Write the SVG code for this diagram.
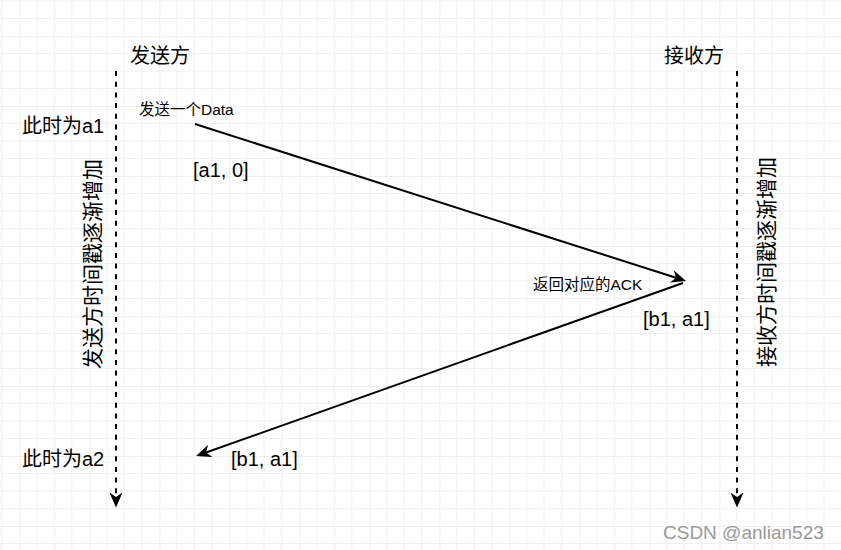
<svg xmlns="http://www.w3.org/2000/svg" width="841" height="550" viewBox="0 0 841 550">
  <defs>
    <pattern id="grid" patternUnits="userSpaceOnUse" x="19.3" y="36" width="70" height="70">
      <path d="M17.5,0V70M35,0V70M52.5,0V70M0,17.5H70M0,35H70M0,52.5H70" stroke="#f0f0f0" stroke-width="1" fill="none"/>
      <path d="M0,0V70M0,0H70" stroke="#e0e0e0" stroke-width="1" fill="none"/>
    </pattern>
    <marker id="arrow" markerUnits="userSpaceOnUse" viewBox="0 0 15 13" markerWidth="15" markerHeight="13" refX="4.5" refY="6.5" orient="auto">
      <path d="M0,0 L15,6.5 L0,13 L4.5,6.5 Z" fill="#000"/>
    </marker>
    <style>
      text { font-family: "Liberation Sans", "Noto Sans CJK SC", sans-serif; fill: #000; }
      .t20 { font-size: 20px; }
      .t21 { font-size: 21px; }
      .t16 { font-size: 15.5px; }
      .conn { stroke: #000; stroke-width: 2; fill: none; marker-end: url(#arrow); }
      .dash { stroke-dasharray: 5 5.7; }
    </style>
  </defs>
  <rect width="841" height="550" fill="#fff"/>
  <rect width="841" height="550" fill="url(#grid)"/>

  <g id="connectors">
    <path class="conn dash" d="M116,71 V497"/>
    <path class="conn dash" d="M737,71 V497"/>
    <path class="conn" d="M195,124 L676,277.8"/>
    <path class="conn" d="M683,283 L206,452.5"/>
  </g>

  <g id="sender-title"><text class="t20" x="160" y="63" text-anchor="middle">发送方</text></g>
  <g id="receiver-title"><text class="t20" x="694" y="63" text-anchor="middle">接收方</text></g>
  <g id="time-a1"><text class="t20" x="22" y="133">此时为a1</text></g>
  <g id="time-a2"><text class="t20" x="22" y="466">此时为a2</text></g>
  <g id="sender-axis"><text class="t21" transform="translate(92,264) rotate(-90)" x="0" y="7.5" text-anchor="middle">发送方时间戳逐渐增加</text></g>
  <g id="receiver-axis"><text class="t21" transform="translate(766,262) rotate(-90)" x="0" y="7.5" text-anchor="middle">接收方时间戳逐渐增加</text></g>
  <g id="send-data"><text class="t16" x="139" y="115">发送一个Data</text></g>
  <g id="label-a1-0"><text class="t20" x="193" y="177">[a1, 0]</text></g>
  <g id="return-ack"><text class="t16" x="533" y="290">返回对应的ACK</text></g>
  <g id="label-b1-a1-right"><text class="t20" x="643" y="326">[b1, a1]</text></g>
  <g id="label-b1-a1-left"><text class="t20" x="231" y="466">[b1, a1]</text></g>
  <g id="watermark"><text x="663" y="539" style="font-size:19px;fill:#9a9a9a">CSDN @anlian523</text></g>
</svg>
